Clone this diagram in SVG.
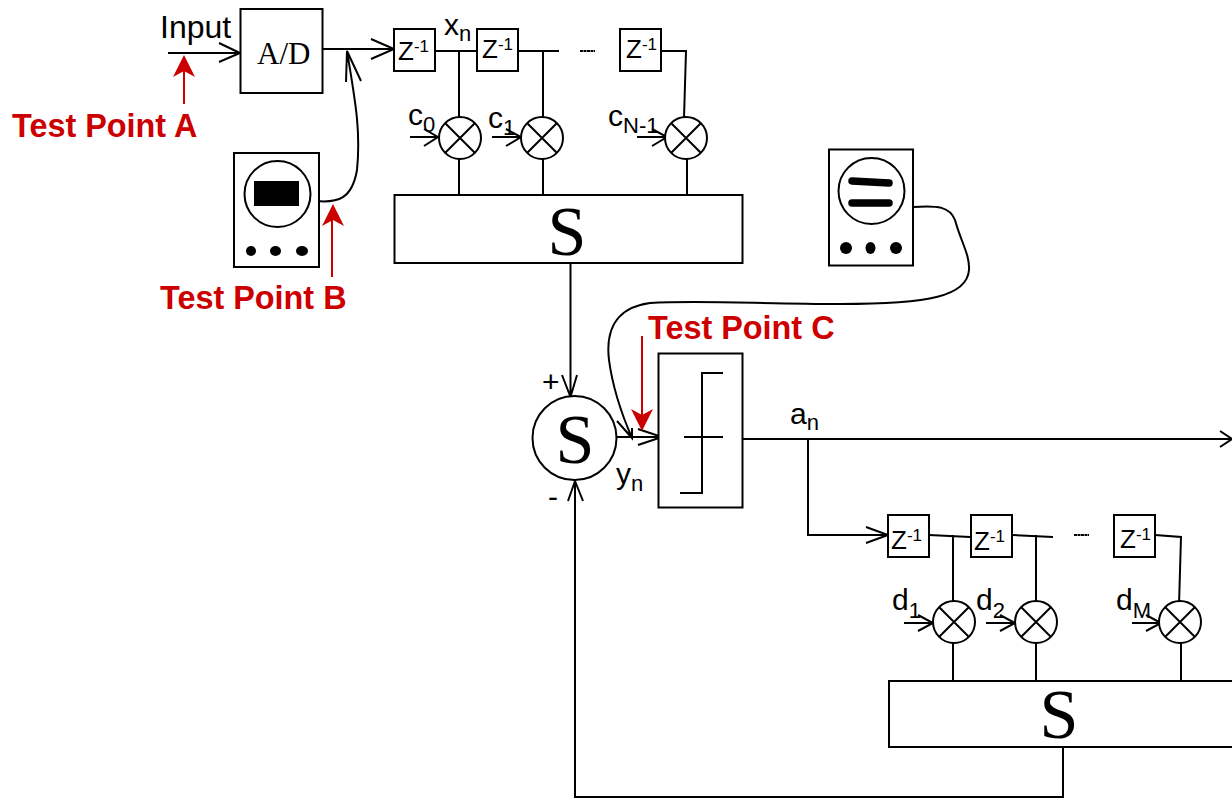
<svg xmlns="http://www.w3.org/2000/svg" width="1232" height="798" viewBox="0 0 1232 798">
<style>
.b{fill:#fff;stroke:#000;stroke-width:2}
.l{fill:none;stroke:#000;stroke-width:2}
.r{fill:none;stroke:#c00;stroke-width:2}
.rh{fill:#c00}
text{font-family:"Liberation Sans",Arial,sans-serif;fill:#000}
.s{font-family:"Liberation Serif","Times New Roman",serif}
.tp{font-size:32.4px;font-weight:bold;fill:#c00}
.v{font-size:30px}
.z{font-size:26px}
.sup{font-size:17px}
.sub{font-size:22px}
</style>
<defs>
<g id="mul"><circle r="21" class="b"/><path d="M-15-15L15 15M-15 15L15-15" class="l"/></g>
<rect id="zb" width="41" height="42" class="b"/>
<path id="redh" class="rh" d="M0 0L11 22L0 16L-11 22Z"/>
</defs>
<g id="connectors">
<path class="l" d="M168 53H240M219 43L240 53L219 62"/>
<path class="l" d="M323 49H394M371 39L394 49L371 59"/>
<path class="l" d="M435 51H476M519 51H559M661 51H686L684 118M459 51V117M543 51V117M459 159V195M543 159V195M687 159V195"/>
<path class="l" d="M580 51H595" stroke-dasharray="3 0.500"/>
<path class="l" d="M410 137H438M424 146L438 137L424 129M492 137H521M506 146L521 137L506 129M637 137H667M652 146L667 137L652 129"/>
<path class="l" d="M316 201C338 203 352 199 357 170C361 130 355 100 347 51M346 82L347 51L361 81"/>
<path class="l" d="M913 207C938 205 950 207 955 220C961 242 970 255 969 270C967 296 930 304 840 304C760 304 700 300 650 303C612 308 606 335 609 360C613 390 622 415 632 438M617 421L632 438L632 428"/>
<path class="l" d="M570.500 263V397M562 375L570.500 397L577 375"/>
<path class="l" d="M617 437H662M638 429L662 437L638 445"/>
<path class="l" d="M743 439H1232M1220 431L1232 439L1220 447"/>
<path class="l" d="M808 439V535H888M866 527L888 535L866 543"/>
<path class="l" d="M929 535L970 537M1013 535L1053 537M1155 535L1181 537L1179 605M953 535V601M1036 535V601M953 643V681M1036 643V681M1181 643V681"/>
<path class="l" d="M1074 535H1089" stroke-dasharray="3 0.500"/>
<path class="l" d="M904 623H933M918 631L933 623L918 615M986 623H1015M1000 631L1015 623L1000 615M1132 623H1161M1146 631L1161 623L1146 615"/>
<path class="l" d="M1063 747V797H575V481M568 501L575 481L583 501"/>
</g>
<g id="adc"><rect x="240.500" y="9" width="82" height="84" class="b"/><text class="s" x="257" y="64" font-size="31">A/D</text></g>
<g id="z1"><use href="#zb" x="394" y="29"/><text x="398" y="60" class="z">Z<tspan class="sup" dy="-8">-1</tspan></text></g>
<g id="z2"><use href="#zb" x="477" y="29"/><text x="482" y="58" class="z">Z<tspan class="sup" dy="-8">-1</tspan></text></g>
<g id="z3"><use href="#zb" x="620" y="29"/><text x="626" y="58" class="z">Z<tspan class="sup" dy="-8">-1</tspan></text></g>
<g id="m0"><use href="#mul" x="460" y="138"/></g>
<g id="m1"><use href="#mul" x="542" y="138"/></g>
<g id="m2"><use href="#mul" x="686" y="138"/></g>
<g id="sum1"><rect x="394.500" y="195" width="348" height="68" class="b"/><text class="s" x="567" y="255" font-size="70" text-anchor="middle">S</text></g>
<g id="scope1"><rect x="234" y="153" width="85" height="114" class="b"/><circle cx="277.500" cy="194" r="33" class="b"/><rect x="254" y="181" width="45" height="25"/><ellipse cx="251" cy="251" rx="5" ry="5"/><ellipse cx="275.500" cy="251" rx="5.500" ry="5"/><ellipse cx="302" cy="251" rx="6" ry="5"/></g>
<g id="scope2"><rect x="829" y="149.500" width="84" height="116" class="b"/><circle cx="871.500" cy="191" r="33" class="b"/><path d="M852 181L889 183M852 203H889" fill="none" stroke="#000" stroke-width="7.500" stroke-linecap="round"/><circle cx="846" cy="248" r="6"/><ellipse cx="870.500" cy="248" rx="5" ry="6"/><circle cx="896" cy="248" r="6"/></g>
<g id="adder"><circle cx="574.500" cy="438" r="42" class="b"/><text class="s" x="575" y="463" font-size="70" text-anchor="middle">S</text></g>
<g id="slicer"><rect x="658.500" y="353.500" width="84" height="154" class="b"/><path class="l" d="M723 373H702V493H680M684 437H723"/></g>
<g id="z4"><use href="#zb" x="888" y="515"/><text x="891" y="549" class="z">Z<tspan class="sup" dy="-8">-1</tspan></text></g>
<g id="z5"><use href="#zb" x="971" y="515"/><text x="974" y="550" class="z">Z<tspan class="sup" dy="-8">-1</tspan></text></g>
<g id="z6"><use href="#zb" x="1114" y="515"/><text x="1120" y="548" class="z">Z<tspan class="sup" dy="-8">-1</tspan></text></g>
<g id="m3"><use href="#mul" x="954" y="622"/></g>
<g id="m4"><use href="#mul" x="1036" y="622"/></g>
<g id="m5"><use href="#mul" x="1180" y="622"/></g>
<g id="sum2"><rect x="889" y="681" width="360" height="66" class="b"/><text class="s" x="1059" y="738" font-size="70" text-anchor="middle">S</text></g>
<g id="labels">
<text x="160" y="38" font-size="32">Input</text>
<text x="444" y="35" class="v">x<tspan class="sub" dy="6">n</tspan></text>
<text x="408" y="125" class="v">c<tspan class="sub" dy="7">0</tspan></text>
<text x="488" y="128" class="v">c<tspan class="sub" dy="7">1</tspan></text>
<text x="608" y="126" class="v">c<tspan class="sub" dy="7">N-1</tspan></text>
<text x="542" y="392" font-size="30">+</text>
<text x="548" y="507" font-size="30">-</text>
<text x="616" y="484" class="v">y<tspan class="sub" dy="7">n</tspan></text>
<text x="790" y="424" class="v">a<tspan class="sub" dy="6">n</tspan></text>
<text x="892" y="610" class="v">d<tspan class="sub" dy="8">1</tspan></text>
<text x="976" y="610" class="v">d<tspan class="sub" dy="8">2</tspan></text>
<text x="1116" y="610" class="v">d<tspan class="sub" dy="8">M</tspan></text>
<text x="12" y="137" class="tp">Test Point A</text>
<text x="160" y="309" class="tp">Test Point B</text>
<text x="648" y="339" class="tp">Test Point C</text>
</g>
<g id="red-arrows">
<path class="r" d="M184 104V70"/><use href="#redh" x="184" y="55"/>
<path class="r" d="M332 277V220"/><use href="#redh" x="333" y="204"/>
<path class="r" d="M642 336V415"/><use href="#redh" transform="translate(642 431) rotate(180)"/>
</g>
</svg>
